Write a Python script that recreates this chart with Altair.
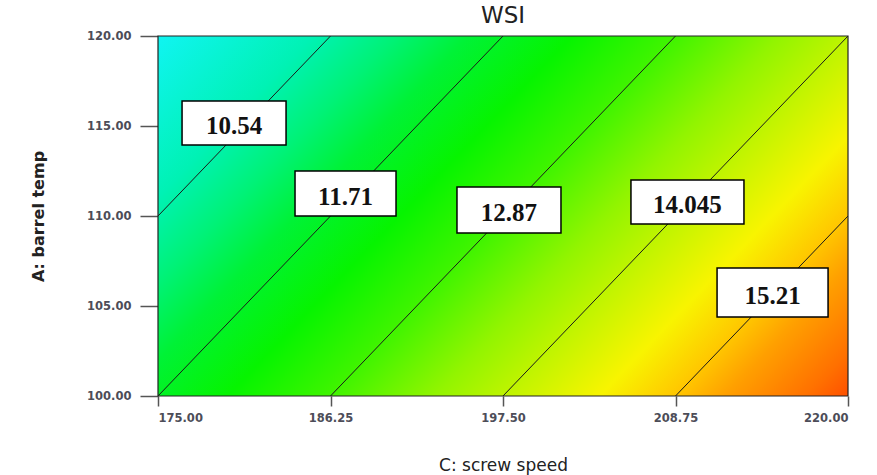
import altair as alt
import pandas as pd

# Factor ticks: C (screw speed) on x, A (barrel temp) on y
c_ticks = [175.00, 186.25, 197.50, 208.75, 220.00]
a_ticks = [100.00, 105.00, 110.00, 115.00, 120.00]

# WSI contour levels and the end points of each contour line
levels = [10.54, 11.71, 12.87, 14.045, 15.21]
level_labels = ["10.54", "11.71", "12.87", "14.045", "15.21"]
c_start = [175.00, 175.00, 186.25, 197.50, 208.75]
a_start = [110.00, 100.00, 100.00, 100.00, 100.00]
c_end = [186.25, 197.50, 208.75, 220.00, 220.00]
a_end = [120.00, 120.00, 120.00, 120.00, 110.00]

# Centre of each level's label box (in factor units)
label_c = [179.96, 187.23, 197.89, 209.53, 215.08]
label_a = [115.17, 111.25, 110.33, 110.78, 105.75]

# Label box sizes in pixels
box_w_px = [104, 101, 104, 113, 111]
box_h_px = [44, 45, 46, 44, 49]

W, H = 690, 360
c_min, c_max = c_ticks[0], c_ticks[-1]
a_min, a_max = a_ticks[0], a_ticks[-1]
px_c = W / (c_max - c_min)
px_a = H / (a_max - a_min)

xs = alt.Scale(domain=[c_min, c_max], nice=False, zero=False)
ys = alt.Scale(domain=[a_min, a_max], nice=False, zero=False)

frame = pd.DataFrame({"c0": [c_min], "c1": [c_max], "a0": [a_min], "a1": [a_max]})

lines = pd.DataFrame(
    [
        {"level": lv, "c": c, "a": a}
        for lv, cs, as_, ce, ae in zip(levels, c_start, a_start, c_end, a_end)
        for c, a in ((cs, as_), (ce, ae))
    ]
)

labels = pd.DataFrame(
    {
        "text": level_labels,
        "c": label_c,
        "a": label_a,
        "c0": [c - w / 2 / px_c for c, w in zip(label_c, box_w_px)],
        "c1": [c + w / 2 / px_c for c, w in zip(label_c, box_w_px)],
        "a0": [a - h / 2 / px_a for a, h in zip(label_a, box_h_px)],
        "a1": [a + h / 2 / px_a for a, h in zip(label_a, box_h_px)],
    }
)

# Response-surface colouring: cyan (low) -> green -> yellow -> red (high)
surface_fill = alt.LinearGradient(
    gradient="linear",
    x1=0, y1=0, x2=1.2, y2=0.6,
    stops=[
        alt.GradientStop(offset=0.00, color="#10f4f2"),
        alt.GradientStop(offset=0.15, color="#00f2b4"),
        alt.GradientStop(offset=0.23, color="#00f276"),
        alt.GradientStop(offset=0.30, color="#00f236"),
        alt.GradientStop(offset=0.40, color="#06f400"),
        alt.GradientStop(offset=0.50, color="#40f400"),
        alt.GradientStop(offset=0.60, color="#92f400"),
        alt.GradientStop(offset=0.68, color="#c6f400"),
        alt.GradientStop(offset=0.76, color="#f8f400"),
        alt.GradientStop(offset=0.83, color="#ffc800"),
        alt.GradientStop(offset=0.88, color="#ffa000"),
        alt.GradientStop(offset=0.96, color="#ff7000"),
        alt.GradientStop(offset=1.00, color="#ff5000"),
    ],
)

x_axis = alt.Axis(
    values=c_ticks, format=".2f", title="C: screw speed",
    tickSize=10, labelPadding=6, grid=False, domain=False,
    titleY=69, titleBaseline="middle",
)
y_axis = alt.Axis(
    values=a_ticks, format=".2f", title="A: barrel temp",
    tickSize=18, labelPadding=9, grid=False, domain=False,
    titleX=-120, titleY=H / 2, titleAngle=270, titleBaseline="middle", titleAlign="center",
    titleFontWeight="bold", titleFontSize=16,
)

surface = alt.Chart(frame).mark_rect(fill=surface_fill).encode(
    x=alt.X("c0:Q", scale=xs, axis=x_axis),
    x2="c1:Q",
    y=alt.Y("a0:Q", scale=ys, axis=y_axis),
    y2="a1:Q",
)

contours = alt.Chart(lines).mark_line(color="#1a1a1a", strokeWidth=1).encode(
    x=alt.X("c:Q", scale=xs),
    y=alt.Y("a:Q", scale=ys),
    detail="level:N",
)

boxes = alt.Chart(labels).mark_rect(fill="white", stroke="black", strokeWidth=1.5).encode(
    x=alt.X("c0:Q", scale=xs), x2="c1:Q",
    y=alt.Y("a0:Q", scale=ys), y2="a1:Q",
)

texts = alt.Chart(labels).mark_text(
    font="Liberation Serif", fontWeight="bold", fontSize=25, color="#111",
    baseline="middle", dy=3,
).encode(
    x=alt.X("c:Q", scale=xs),
    y=alt.Y("a:Q", scale=ys),
    text="text:N",
)

border = alt.Chart(frame).mark_rect(filled=False, stroke="#222", strokeWidth=1.2).encode(
    x=alt.X("c0:Q", scale=xs), x2="c1:Q",
    y=alt.Y("a0:Q", scale=ys), y2="a1:Q",
)

chart = (
    alt.layer(surface, contours, boxes, texts, border)
    .properties(
        width=W, height=H,
        background="white",
        title=alt.TitleParams("WSI", fontSize=23, font="DejaVu Sans", fontWeight="normal",
                              color="#222", offset=2),
        autosize=alt.AutoSizeParams(type="none"),
        padding={"left": 158, "top": 36, "right": 29, "bottom": 79},
    )
    .configure_view(stroke=None)
    .configure_axis(
        labelFont="DejaVu Sans", labelFontSize=11.5, labelFontWeight="bold", labelColor="#4d4d58",
        titleFont="DejaVu Sans", titleFontSize=17, titleFontWeight="normal", titleColor="#222",
        tickColor="#555", tickWidth=1.5,
    )
)

chart.save("out.html", embed_options={"renderer": "svg", "actions": False})
